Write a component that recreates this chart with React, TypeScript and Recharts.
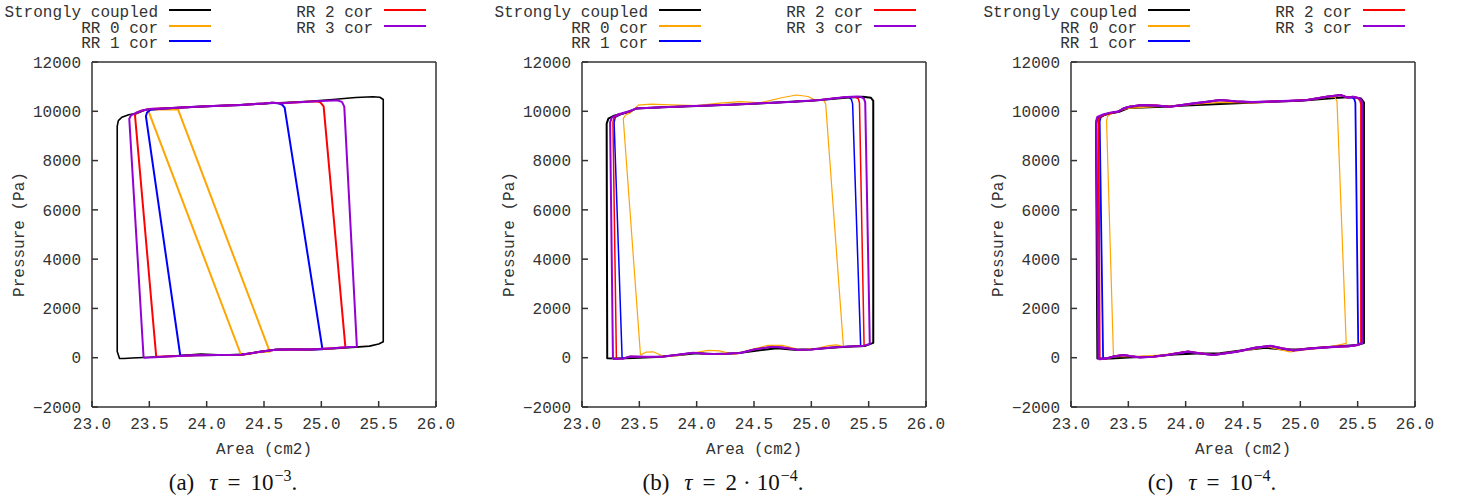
import React from "react";
import { ComposedChart, Line, XAxis, YAxis, Label } from "recharts";

type Pt = [number, number]; // [area (cm2), pressure (Pa)]

const seriesNames = ["Strongly coupled", "RR 0 cor", "RR 1 cor", "RR 2 cor", "RR 3 cor"];
const seriesColors = ["#000000", "#ffa500", "#0000ff", "#ff0000", "#9400d3"];
const xTicks = [23, 23.5, 24, 24.5, 25, 25.5, 26];
const yTicks = [-2000, 0, 2000, 4000, 6000, 8000, 10000, 12000];

const captionTags = ["(a)", "(b)", "(c)"];
const captionPre = ["", "2", ""];
const captionExp = ["−3", "−4", "−4"];

// ---- (a) tau = 1e-3 ----
const strong1: Pt[] = [
  [23.22, 9400], [23.23, 9620], [23.26, 9760], [23.32, 9860], [23.4, 9930], [23.47, 10060],
  [23.6, 10110], [24.0, 10200], [24.5, 10310], [24.9, 10410], [25.1, 10480], [25.3, 10560],
  [25.45, 10590], [25.51, 10570], [25.54, 10480], [25.54, 650], [25.5, 560], [25.42, 470],
  [25.3, 430], [25.1, 370], [24.9, 330], [24.75, 340], [24.62, 340], [24.5, 270], [24.35, 150],
  [24.15, 110], [23.95, 150], [23.8, 100], [23.6, 40], [23.45, 10], [23.35, -10], [23.28, -30],
  [23.24, -30], [23.22, 250], [23.22, 9400],
];
const orange1: Pt[] = [
  [23.49, 10040], [23.55, 10070], [23.75, 10080], [24.55, 250], [24.45, 220], [24.3, 110], [23.49, 10040],
];
const top1: Pt[] = [
  [23.5, 10090], [23.7, 10130], [24.0, 10200], [24.3, 10260], [24.5, 10315], [24.57, 10345],
  [24.65, 10330], [24.8, 10370], [25.0, 10420], [25.1, 10440],
];
const bottom1: Pt[] = [
  [25.25, 430], [25.1, 380], [24.9, 330], [24.75, 330], [24.6, 320], [24.45, 230], [24.3, 120],
  [24.1, 110], [23.9, 100], [23.7, 60], [23.55, 20], [23.5, 5],
];
const blueLeft1: Pt[] = [[23.77, 80], [23.47, 9800], [23.48, 9950], [23.51, 10060]];
const blueRight1: Pt[] = [[24.62, 10330], [24.66, 10260], [24.68, 10150], [25.01, 340]];
const redLeft1: Pt[] = [[23.56, 40], [23.375, 9840], [23.39, 9940], [23.43, 10020]];
const redRight1: Pt[] = [[24.96, 10410], [24.99, 10370], [25.02, 10200], [25.21, 420]];
const purpleLeft1: Pt[] = [[23.45, 0], [23.325, 9700], [23.34, 9830], [23.38, 9930], [23.44, 10030]];
const purpleRight1: Pt[] = [[25.14, 10445], [25.18, 10380], [25.2, 10190], [25.31, 450]];

// ---- (b) tau = 2e-4 ----
const strong2: Pt[] = [
  [23.215, 9500], [23.23, 9700], [23.28, 9820], [23.35, 9900], [23.42, 10000], [23.47, 10110],
  [23.7, 10160], [24.0, 10210], [24.5, 10310], [25.0, 10430], [25.3, 10550], [25.45, 10590],
  [25.52, 10550], [25.54, 10420], [25.54, 600], [25.47, 480], [25.3, 440], [25.0, 340],
  [24.85, 320], [24.7, 380], [24.55, 300], [24.35, 180], [24.15, 150], [24.0, 180], [23.85, 110],
  [23.65, 30], [23.45, -10], [23.3, -30], [23.22, -20], [23.215, 9500],
];
const orange2: Pt[] = [
  [23.51, 110], [23.36, 9700], [23.38, 9850], [23.42, 9930], [23.45, 10060], [23.49, 10250],
  [23.6, 10290], [23.77, 10260], [24.0, 10230], [24.2, 10330], [24.38, 10390], [24.55, 10340],
  [24.75, 10560], [24.87, 10660], [24.97, 10600], [25.03, 10470], [25.11, 10430], [25.125, 10300],
  [25.28, 450], [25.22, 520], [25.15, 490], [25.05, 380], [24.9, 320], [24.75, 500], [24.62, 500],
  [24.45, 300], [24.33, 130], [24.2, 280], [24.1, 300], [23.95, 180], [23.8, 60], [23.72, 40],
  [23.62, 240], [23.56, 230], [23.51, 110],
];
const top2: Pt[] = [
  [23.47, 10110], [23.7, 10160], [23.97, 10214], [24.3, 10270], [24.55, 10323], [24.8, 10380],
  [25.08, 10457], [25.2, 10530], [25.31, 10575], [25.4, 10600],
];
const bottom2: Pt[] = [
  [25.45, 480], [25.3, 450], [25.15, 400], [25.0, 330], [24.88, 320], [24.75, 410], [24.65, 440],
  [24.5, 330], [24.38, 190], [24.25, 160], [24.1, 150], [23.97, 200], [23.85, 130], [23.7, 40],
  [23.55, 40], [23.42, 50], [23.36, -30],
];
const blueLeft2: Pt[] = [[23.35, -40], [23.28, 9550], [23.29, 9750], [23.34, 9880], [23.42, 9990]];
const blueRight2: Pt[] = [[25.33, 10565], [25.35, 10480], [25.36, 10300], [25.43, 480]];
const redLeft2: Pt[] = [[23.3, -40], [23.27, 9550], [23.28, 9750], [23.33, 9880], [23.42, 9995]];
const redRight2: Pt[] = [[25.38, 10590], [25.41, 10500], [25.42, 10350], [25.46, 480]];
const purpleLeft2: Pt[] = [[23.27, -50], [23.245, 9550], [23.26, 9740], [23.32, 9880], [23.41, 10000]];
const purpleRight2: Pt[] = [[25.43, 10590], [25.46, 10500], [25.47, 10350], [25.51, 560]];

// ---- (c) tau = 1e-4 ----
const strong3: Pt[] = [
  [23.218, 9500], [23.23, 9700], [23.27, 9820], [23.33, 9900], [23.42, 9980], [23.5, 10130],
  [23.8, 10180], [24.0, 10230], [24.5, 10340], [25.0, 10430], [25.3, 10540], [25.45, 10580],
  [25.53, 10520], [25.555, 10350], [25.555, 600], [25.5, 520], [25.3, 460], [25.0, 340],
  [24.85, 330], [24.7, 400], [24.5, 300], [24.3, 180], [24.1, 170], [23.9, 130], [23.7, 50],
  [23.5, 10], [23.35, -30], [23.23, -30], [23.218, 9500],
];
const orange3: Pt[] = [
  [23.37, 110], [23.31, 9620], [23.32, 9800], [23.36, 9930], [23.42, 10020], [23.49, 10120],
  [23.7, 10180], [24.0, 10260], [24.3, 10360], [24.6, 10340], [24.9, 10420], [25.1, 10480],
  [25.23, 10565], [25.3, 10590], [25.32, 10390], [25.4, 585], [25.23, 410], [25.05, 330],
  [24.91, 240], [24.71, 450], [24.54, 310], [24.24, 110], [24.01, 245], [23.78, 110],
  [23.49, 40], [23.39, 40], [23.37, 110],
];
const top3: Pt[] = [
  [23.41, 9985], [23.46, 10120], [23.51, 10185], [23.62, 10255], [23.75, 10230], [23.86, 10185],
  [24.07, 10320], [24.18, 10380], [24.3, 10458], [24.44, 10400], [24.58, 10370], [24.71, 10390],
  [24.9, 10420], [25.06, 10458], [25.23, 10590], [25.35, 10660], [25.41, 10560], [25.46, 10590],
];
const bottom3: Pt[] = [
  [25.5, 520], [25.43, 470], [25.3, 440], [25.1, 380], [24.94, 300], [24.84, 380], [24.74, 480],
  [24.6, 400], [24.45, 250], [24.24, 110], [24.12, 180], [24.02, 250], [23.85, 120], [23.72, 40],
  [23.6, 15], [23.52, 60], [23.46, 110], [23.38, 60], [23.31, -30],
];
const blueLeft3: Pt[] = [[23.28, -50], [23.25, 9600], [23.26, 9760], [23.3, 9880], [23.38, 9960]];
const blueRight3: Pt[] = [[25.45, 10570], [25.47, 10500], [25.48, 10350], [25.505, 520]];
const redLeft3: Pt[] = [[23.25, -60], [23.24, 9600], [23.25, 9770], [23.3, 9880], [23.38, 9960]];
const redRight3: Pt[] = [[25.5, 10540], [25.52, 10450], [25.53, 10300], [25.53, 600]];
const purpleLeft3: Pt[] = [[23.24, -60], [23.22, 9600], [23.23, 9770], [23.28, 9870], [23.36, 9960]];
const purpleRight3: Pt[] = [[25.5, 10550], [25.53, 10480], [25.54, 10300], [25.54, 600]];

// close a loop: left edge up, shared top, right edge down, shared bottom back
function loop(leftUp: Pt[], top: Pt[], rightDown: Pt[], bottom: Pt[]): Pt[] {
  const l0 = leftUp[0][0];
  const l1 = leftUp[leftUp.length - 1][0];
  const r0 = rightDown[0][0];
  const r1 = rightDown[rightDown.length - 1][0];
  return [
    ...leftUp,
    ...top.filter(([a]) => a > l1 && a < r0),
    ...rightDown,
    ...bottom.filter(([a]) => a < r1 && a > l0),
    leftUp[0],
  ];
}

const panels = [
  {
    left: 0,
    widths: [1.6, 2, 2, 2, 2],
    loops: [
      strong1,
      orange1,
      loop(blueLeft1, top1, blueRight1, bottom1),
      loop(redLeft1, top1, redRight1, bottom1),
      loop(purpleLeft1, top1, purpleRight1, bottom1),
    ],
  },
  {
    left: 490,
    widths: [2, 1.2, 1.5, 1.5, 2],
    loops: [
      strong2,
      orange2,
      loop(blueLeft2, top2, blueRight2, bottom2),
      loop(redLeft2, top2, redRight2, bottom2),
      loop(purpleLeft2, top2, purpleRight2, bottom2),
    ],
  },
  {
    left: 979,
    widths: [2, 1.2, 1.8, 2, 2.2],
    loops: [
      strong3,
      orange3,
      loop(blueLeft3, top3, blueRight3, bottom3),
      loop(redLeft3, top3, redRight3, bottom3),
      loop(purpleLeft3, top3, purpleRight3, bottom3),
    ],
  },
];

const MONO = "'Liberation Mono', 'DejaVu Sans Mono', monospace";
const FRAME = { stroke: "#333", strokeWidth: 1.5 };
const tickFont = { fontFamily: MONO, fontSize: 16, fill: "#333" };

const fmtY = (v: number) => (v < 0 ? `−${-v}` : `${v}`);
const fmtX = (v: number) => v.toFixed(1);

function PanelLegend() {
  // [series index, column, row]
  const slots = [
    [0, 0, 0],
    [1, 0, 1],
    [2, 0, 2],
    [3, 1, 0],
    [4, 1, 1],
  ];
  const textEnd = [158, 373];
  const lineStart = [169, 384];
  return (
    <>
      {slots.map(([s, c, r]) => (
        <React.Fragment key={s}>
          <div
            style={{
              position: "absolute",
              left: 0,
              width: textEnd[c],
              top: 5 + r * 15.7,
              textAlign: "right",
              fontFamily: MONO,
              fontSize: 16,
              lineHeight: "16px",
              color: "#333",
              whiteSpace: "pre",
            }}
          >
            {seriesNames[s]}
          </div>
          <div
            style={{
              position: "absolute",
              left: lineStart[c],
              top: 9 + r * 15.7,
              width: 42,
              height: 2,
              background: seriesColors[s],
            }}
          />
        </React.Fragment>
      ))}
    </>
  );
}

function YTitle(props: any) {
  const { viewBox } = props;
  const cx = viewBox.x + 20;
  const cy = viewBox.y + viewBox.height / 2;
  return (
    <text
      x={cx}
      y={cy}
      transform={`rotate(-90, ${cx}, ${cy})`}
      textAnchor="middle"
      dominantBaseline="central"
      fontFamily={MONO}
      fontSize={16}
      fill="#333"
    >
      Pressure (Pa)
    </text>
  );
}

function Panel({ idx }: { idx: number }) {
  const p = panels[idx];
  return (
    <div style={{ position: "absolute", left: p.left, top: 0, width: 490, height: 502 }}>
      <PanelLegend />
      <div style={{ position: "absolute", left: 0, top: 0 }}>
        <ComposedChart width={490} height={460} margin={{ top: 61, right: 53, bottom: 3, left: 0 }}>
          <XAxis
            xAxisId="b"
            dataKey="a"
            type="number"
            domain={[23, 26]}
            ticks={xTicks}
            tickFormatter={fmtX}
            orientation="bottom"
            height={50}
            tickSize={-6}
            tickMargin={17}
            axisLine={FRAME}
            tickLine={FRAME}
            tick={tickFont}
            allowDataOverflow
          >
            <Label
              value="Area (cm2)"
              position="insideBottom"
              offset={3}
              style={{ fontFamily: MONO, fontSize: 16, fill: "#333" }}
            />
          </XAxis>
          <XAxis
            xAxisId="t"
            type="number"
            domain={[23, 26]}
            ticks={xTicks}
            orientation="top"
            height={1}
            tickSize={-6}
            tick={false}
            axisLine={FRAME}
            tickLine={FRAME}
            allowDataOverflow
          />
          <YAxis
            yAxisId="l"
            dataKey="p"
            type="number"
            domain={[-2000, 12000]}
            ticks={yTicks}
            tickFormatter={fmtY}
            width={92}
            tickSize={-6}
            tickMargin={17}
            axisLine={FRAME}
            tickLine={FRAME}
            tick={tickFont}
            allowDataOverflow
            label={<YTitle />}
          />
          <YAxis
            yAxisId="r"
            orientation="right"
            type="number"
            domain={[-2000, 12000]}
            ticks={yTicks}
            width={1}
            tickSize={-6}
            tick={false}
            axisLine={FRAME}
            tickLine={FRAME}
            allowDataOverflow
          />
          {p.loops.map((pts, i) => (
            <Line
              key={seriesNames[i]}
              name={seriesNames[i]}
              xAxisId="b"
              yAxisId="l"
              data={pts.map(([a, pr]) => ({ a, p: pr }))}
              dataKey="p"
              type="linear"
              stroke={seriesColors[i]}
              strokeWidth={p.widths[i]}
              strokeLinejoin="round"
              dot={false}
              activeDot={false}
              isAnimationActive={false}
            />
          ))}
        </ComposedChart>
      </div>
      <div
        style={{
          position: "absolute",
          left: 0,
          width: 466,
          top: 471,
          textAlign: "center",
          fontFamily: "'Liberation Serif', 'DejaVu Serif', serif",
          fontSize: 23,
          lineHeight: "24px",
          color: "#111",
          whiteSpace: "nowrap",
        }}
      >
        <span>{captionTags[idx]}</span>
        <i style={{ marginLeft: 15 }}>τ</i>
        <span style={{ margin: "0 10px" }}>=</span>
        {captionPre[idx] && (
          <>
            <span>{captionPre[idx]}</span>
            <span style={{ margin: "0 6px" }}>·</span>
          </>
        )}
        <span>10</span>
        <span style={{ fontSize: 16, position: "relative", top: -9, marginLeft: 1 }}>{captionExp[idx]}</span>
        <span>.</span>
      </div>
    </div>
  );
}

export default function App() {
  return (
    <div
      style={{
        position: "absolute",
        left: 0,
        top: 0,
        width: 1457,
        height: 502,
        background: "#fff",
        overflow: "hidden",
      }}
    >
      <Panel idx={0} />
      <Panel idx={1} />
      <Panel idx={2} />
    </div>
  );
}
